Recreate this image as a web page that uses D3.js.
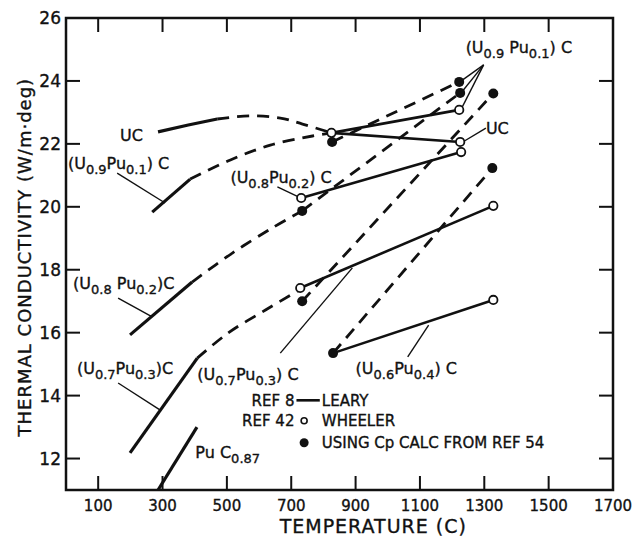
<!DOCTYPE html>
<html>
<head>
<meta charset="utf-8">
<script src="https://cdn.jsdelivr.net/npm/d3@7"></script>
<style>
  body { margin: 0; background: #fff; }
  svg text { font-family: "DejaVu Sans", sans-serif; fill: #111; stroke: #111; stroke-width: 0.35; }
</style>
</head>
<body>
<div id="chart"></div>
<script>
'use strict';

// temperature (C), conductivity (W/m-deg)
const xTicks = [100, 300, 500, 700, 900, 1100, 1300, 1500, 1700];
const yTicks = [12, 14, 16, 18, 20, 22, 24, 26];

// REF 8 (Leary) measured segments, solid
const learyUC    = [[286, 22.38], [380, 22.6], [470, 22.79]];
const learyU9    = [[268, 19.83], [386, 20.88]];
const learyU8    = [[199, 15.93], [392, 17.61]];
const learyU7    = [[199, 12.18], [408, 15.19]];
const learyPuC   = [[286, 11.0], [407, 13.0]];

// dashed extrapolations from Leary to the Wheeler range
const extUC = [[470, 22.79], [573, 22.89], [666, 22.82], [735, 22.63], [825, 22.35]];
const extU9 = [[386, 20.88], [511, 21.49], [635, 21.96], [766, 22.25], [825, 22.35]];
const extU8 = [[392, 17.61], [517, 18.53], [641, 19.33], [734, 19.87]];
const extU7 = [[408, 15.19], [504, 15.99], [620, 16.72], [726, 17.36]];

// REF 42 (Wheeler), open circles joined by solid lines
const wheelerU9 = [[825, 22.35], [1222, 23.08]];
const wheelerUC = [[825, 22.35], [1225, 22.06]];
const wheelerU8 = [[731, 20.28], [1228, 21.74]];
const wheelerU7 = [[728, 17.42], [1328, 20.03]];
const wheelerU6 = [[830, 15.35], [1328, 17.04]];

// using Cp calc from REF 54, filled circles joined by dashed lines
const calcU9 = [[827, 22.06], [1222, 23.97]];
const calcU8 = [[734, 19.87], [1225, 23.62]];
const calcU7 = [[734, 17.0], [1328, 23.6]];
const calcU6 = [[830, 15.35], [1325, 21.23]];

const openPts = [[825, 22.35], [1222, 23.08], [1225, 22.06], [1228, 21.74],
                 [1328, 20.03], [731, 20.28], [728, 17.42], [1328, 17.04]];
const filledPts = [[827, 22.06], [1222, 23.97], [1225, 23.62], [1328, 23.6],
                   [1325, 21.23], [734, 17.0], [830, 15.35], [734, 19.87]];

// labels: [text parts, x, y]; parts as [text, isSub]
const labels = [
  [[["UC", 0]], 168, 22.09],
  [[["(U", 0], ["0.9", 1], ["Pu", 0], ["0.1", 1], [") C", 0]], 6, 21.2],
  [[["(U", 0], ["0.8", 1], ["Pu", 0], ["0.2", 1], [") C", 0]], 511, 20.76],
  [[["(U", 0], ["0.8", 1], [" Pu", 0], ["0.2", 1], [")C", 0]], 22, 17.39],
  [[["(U", 0], ["0.7", 1], ["Pu", 0], ["0.3", 1], [")C", 0]], 34, 14.69],
  [[["(U", 0], ["0.7", 1], ["Pu", 0], ["0.3", 1], [") C", 0]], 408, 14.5],
  [[["(U", 0], ["0.6", 1], ["Pu", 0], ["0.4", 1], [") C", 0]], 900, 14.69],
  [[["(U", 0], ["0.9", 1], [" Pu", 0], ["0.1", 1], [") C", 0]], 1242, 24.89],
  [[["UC", 0]], 1305, 22.31],
  [[["Pu C", 0], ["0.87", 1]], 402, 12.02]
];

// leader lines
const leaders = [
  [[159, 21.07], [308, 20.12]],
  [[657, 20.63], [729, 20.28]],
  [[162, 17.10], [268, 16.50]],
  [[162, 14.40], [293, 13.54]],
  [[666, 15.35], [890, 18.06]],
  [[1062, 15.23], [1127, 16.24]],
  [[1298, 24.51], [1224, 23.97]],
  [[1298, 24.51], [1230, 23.65]],
  [[1298, 24.51], [1227, 23.08]],
  [[1305, 22.50], [1233, 22.06]]
];

const W = 636, H = 540;
const margin = {top: 18, right: 23, bottom: 50, left: 66};
const iw = W - margin.left - margin.right;
const ih = H - margin.top - margin.bottom;

const svg = d3.select("#chart").append("svg")
  .attr("width", W).attr("height", H);

const x = d3.scaleLinear().domain([0, 1700]).range([0, iw]);
const y = d3.scaleLinear().domain([11, 26]).range([ih, 0]);

const g = svg.append("g").attr("transform", `translate(${margin.left},${margin.top})`);

svg.append("clipPath").attr("id", "clip")
  .append("rect").attr("width", iw).attr("height", ih);

const plot = g.append("g").attr("clip-path", "url(#clip)");

const line = d3.line().x(d => x(d[0])).y(d => y(d[1]));
const curve = d3.line().x(d => x(d[0])).y(d => y(d[1])).curve(d3.curveCatmullRom);

function draw(data, gen, width, dash) {
  plot.append("path")
    .attr("d", gen(data))
    .attr("fill", "none")
    .attr("stroke", "#111")
    .attr("stroke-width", width)
    .attr("stroke-dasharray", dash || null);
}

[learyUC, learyU9, learyU8, learyU7, learyPuC].forEach(d => draw(d, line, 3.2));
[extUC, extU9, extU8, extU7].forEach(d => draw(d, curve, 2.8, "12,8"));
[wheelerU9, wheelerUC, wheelerU8, wheelerU7, wheelerU6].forEach(d => draw(d, line, 2.6));
[calcU9, calcU8, calcU7, calcU6].forEach(d => draw(d, line, 2.8, "12,8"));
leaders.forEach(d => draw(d, line, 1.4));

plot.selectAll(".filled").data(filledPts).join("circle")
  .attr("cx", d => x(d[0])).attr("cy", d => y(d[1])).attr("r", 5)
  .attr("fill", "#111");
plot.selectAll(".open").data(openPts).join("circle")
  .attr("cx", d => x(d[0])).attr("cy", d => y(d[1])).attr("r", 4.2)
  .attr("fill", "#fff").attr("stroke", "#111").attr("stroke-width", 1.8);

// labels
labels.forEach(([parts, lx, ly]) => {
  const t = g.append("text")
    .attr("x", x(lx)).attr("y", y(ly))
    .attr("font-size", 16);
  let shift = 0;
  parts.forEach(([s, sub]) => {
    const want = sub ? 5 : 0;
    t.append("tspan")
      .attr("dy", want - shift)
      .attr("font-size", sub ? 13 : 16)
      .text(s);
    shift = want;
  });
});

// frame
g.append("rect").attr("width", iw).attr("height", ih)
  .attr("fill", "none").attr("stroke", "#111").attr("stroke-width", 2.5);

// inward ticks on all four sides
const tick = 14;
const innerX = xTicks.filter(v => v < 1700);
const innerY = yTicks.filter(v => v < 26);
g.selectAll(".tb").data(innerX).join("line")
  .attr("x1", d => x(d)).attr("x2", d => x(d))
  .attr("y1", ih).attr("y2", ih - tick)
  .attr("stroke", "#111").attr("stroke-width", 2);
g.selectAll(".tt").data(innerX).join("line")
  .attr("x1", d => x(d)).attr("x2", d => x(d))
  .attr("y1", 0).attr("y2", tick)
  .attr("stroke", "#111").attr("stroke-width", 2);
g.selectAll(".tl").data(innerY).join("line")
  .attr("y1", d => y(d)).attr("y2", d => y(d))
  .attr("x1", 0).attr("x2", tick)
  .attr("stroke", "#111").attr("stroke-width", 2);
g.selectAll(".tr").data(innerY).join("line")
  .attr("y1", d => y(d)).attr("y2", d => y(d))
  .attr("x1", iw).attr("x2", iw - tick)
  .attr("stroke", "#111").attr("stroke-width", 2);

// tick labels
g.selectAll(".xl").data(xTicks).join("text")
  .attr("x", d => x(d)).attr("y", ih + 21)
  .attr("text-anchor", "middle").attr("font-size", 15)
  .text(d => d);
g.selectAll(".yl").data(yTicks).join("text")
  .attr("x", -5).attr("y", d => y(d))
  .attr("dy", "0.36em")
  .attr("text-anchor", "end").attr("font-size", 17)
  .text(d => d);

// axis titles
g.append("text")
  .attr("x", x(955)).attr("y", ih + 43)
  .attr("text-anchor", "middle").attr("font-size", 19)
  .attr("letter-spacing", 1)
  .text("TEMPERATURE (C)");
svg.append("text")
  .attr("transform", `translate(31,${margin.top + y(18.4)}) rotate(-90)`)
  .attr("text-anchor", "middle").attr("font-size", 18)
  .attr("letter-spacing", 1)
  .text("THERMAL CONDUCTIVITY (W/m·deg)");

// legend
const lx = x(710), lx2 = x(795);
const leg = g.append("g");
leg.append("text").attr("x", lx).attr("y", y(13.85)).attr("dy", "0.36em")
  .attr("text-anchor", "end").attr("font-size", 15).text("REF 8");
leg.append("line").attr("x1", lx + 2).attr("x2", lx2 - 2)
  .attr("y1", y(13.85)).attr("y2", y(13.85))
  .attr("stroke", "#111").attr("stroke-width", 2.6);
leg.append("text").attr("x", lx2).attr("y", y(13.85)).attr("dy", "0.36em")
  .attr("font-size", 15).text("LEARY");
leg.append("text").attr("x", lx).attr("y", y(13.2)).attr("dy", "0.36em")
  .attr("text-anchor", "end").attr("font-size", 15).text("REF 42");
leg.append("circle").attr("cx", (lx + lx2) / 2 - 4).attr("cy", y(13.2)).attr("r", 3)
  .attr("fill", "#fff").attr("stroke", "#111").attr("stroke-width", 1.6);
leg.append("text").attr("x", lx2).attr("y", y(13.2)).attr("dy", "0.36em")
  .attr("font-size", 15).text("WHEELER");
leg.append("circle").attr("cx", (lx + lx2) / 2 - 4).attr("cy", y(12.5)).attr("r", 4.5)
  .attr("fill", "#111");
leg.append("text").attr("x", lx2).attr("y", y(12.5)).attr("dy", "0.36em")
  .attr("font-size", 15).text("USING Cp CALC FROM REF 54");
</script>
</body>
</html>
